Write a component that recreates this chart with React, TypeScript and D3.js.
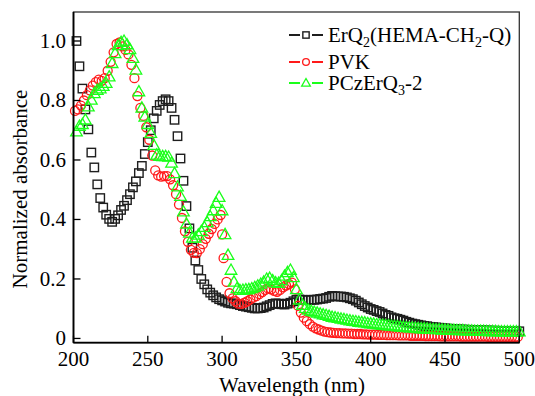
import * as d3 from "d3";

// ErQ2(HEMA-CH2-Q) — black squares
const erqWavelength = [
  202, 204, 206, 208, 210, 212, 214, 216, 218, 220, 222, 224, 226, 228, 230, 232, 234, 236, 238, 240,
  242, 244, 246, 248, 250, 252, 254, 256, 258, 260, 262, 264, 266, 268, 270, 272, 274, 276, 278, 280,
  282, 284, 286, 288, 290, 292, 294, 296, 298, 300, 302, 304, 306, 308, 310, 312, 314, 316, 318, 320,
  322, 324, 326, 328, 330, 332, 334, 336, 338, 340, 342, 344, 346, 348, 350, 352, 354, 356, 358, 360,
  362, 364, 366, 368, 370, 372, 374, 376, 378, 380, 382, 384, 386, 388, 390, 392, 394, 396, 398, 400,
  402, 404, 406, 408, 410, 412, 414, 416, 418, 420, 422, 424, 426, 428, 430, 432, 434, 436, 438, 440,
  442, 444, 446, 448, 450, 452, 454, 456, 458, 460, 462, 464, 466, 468, 470, 472, 474, 476, 478, 480,
  482, 484, 486, 488, 490, 492, 494, 496, 498, 500,
];
const erqAbs = [
  1.0, 0.915, 0.84, 0.77, 0.703, 0.625, 0.575, 0.518, 0.472, 0.44, 0.416, 0.402, 0.392, 0.402, 0.414, 0.432, 0.446, 0.465, 0.485, 0.508,
  0.528, 0.556, 0.58, 0.62, 0.66, 0.7, 0.74, 0.765, 0.785, 0.798, 0.804, 0.798, 0.775, 0.735, 0.68, 0.605, 0.53, 0.445, 0.37, 0.305,
  0.262, 0.23, 0.2, 0.182, 0.165, 0.154, 0.145, 0.138, 0.132, 0.128, 0.124, 0.12, 0.118, 0.117, 0.115, 0.112, 0.109, 0.107, 0.105, 0.103,
  0.101, 0.101, 0.102, 0.104, 0.108, 0.112, 0.116, 0.118, 0.117, 0.115, 0.114, 0.117, 0.12, 0.125, 0.13, 0.131, 0.13, 0.129, 0.129, 0.13,
  0.13, 0.131, 0.133, 0.134, 0.136, 0.14, 0.143, 0.142, 0.141, 0.141, 0.14, 0.138, 0.135, 0.132, 0.127, 0.121, 0.115, 0.109, 0.104, 0.099,
  0.096, 0.092, 0.089, 0.084, 0.079, 0.076, 0.071, 0.068, 0.066, 0.063, 0.06, 0.056, 0.053, 0.05, 0.048, 0.046, 0.044, 0.042, 0.041, 0.039,
  0.038, 0.037, 0.036, 0.035, 0.034, 0.033, 0.032, 0.031, 0.031, 0.03, 0.03, 0.029, 0.029, 0.028, 0.028, 0.028, 0.027, 0.027, 0.027, 0.026,
  0.026, 0.026, 0.025, 0.025, 0.025, 0.025, 0.024, 0.024, 0.024, 0.024,
];

// PVK — red circles
const pvkWavelength = [
  201, 203, 205, 207, 209, 211, 213, 215, 217, 219, 221, 223, 225, 227, 229, 231, 233, 235, 237, 239,
  241, 243, 245, 247, 249, 251, 253, 255, 257, 259, 261, 263, 265, 267, 269, 271, 273, 275, 277, 279,
  281, 283, 285, 287, 289, 291, 293, 295, 297, 299, 300, 301, 303, 305, 307, 309, 311, 313, 315, 317,
  319, 321, 323, 325, 327, 329, 331, 333, 335, 337, 339, 341, 343, 345, 347, 349, 351, 353, 355, 357,
  359, 361, 363, 365, 367, 369, 371, 373, 375, 377, 379, 381, 383, 385, 387, 389, 391, 393, 395, 397,
  399, 401, 403, 405, 407, 409, 411, 413, 415, 417, 419, 421, 423, 425, 427, 429, 431, 433, 435, 437,
  439, 441, 443, 445, 447, 449, 451, 453, 455, 457, 459, 461, 463, 465, 467, 469, 471, 473, 475, 477,
  479, 481, 483, 485, 487, 489, 491, 493, 495, 497, 499,
];
const pvkAbs = [
  0.765, 0.77, 0.783, 0.8, 0.818, 0.834, 0.85, 0.862, 0.87, 0.866, 0.875, 0.9, 0.93, 0.962, 0.99, 0.995, 0.982, 0.97, 0.955, 0.92,
  0.875, 0.815, 0.775, 0.748, 0.71, 0.668, 0.615, 0.565, 0.548, 0.544, 0.546, 0.546, 0.535, 0.515, 0.485, 0.45, 0.405, 0.36, 0.325, 0.298,
  0.288, 0.287, 0.3, 0.317, 0.335, 0.352, 0.368, 0.385, 0.4, 0.415, 0.35, 0.27, 0.19, 0.152, 0.135, 0.125, 0.117, 0.116, 0.12, 0.125,
  0.131, 0.137, 0.142, 0.149, 0.156, 0.163, 0.168, 0.165, 0.16, 0.157, 0.163, 0.172, 0.178, 0.183, 0.188, 0.165, 0.11, 0.087, 0.07, 0.058,
  0.048, 0.04, 0.034, 0.03, 0.026, 0.023, 0.021, 0.02, 0.019, 0.018, 0.018, 0.017, 0.017, 0.016, 0.016, 0.015, 0.015, 0.015, 0.014, 0.014,
  0.013, 0.013, 0.013, 0.012, 0.012, 0.012, 0.011, 0.011, 0.011, 0.011, 0.01, 0.01, 0.01, 0.01, 0.009, 0.009, 0.009, 0.009, 0.009, 0.008,
  0.008, 0.008, 0.008, 0.008, 0.007, 0.007, 0.007, 0.007, 0.007, 0.007, 0.007, 0.006, 0.006, 0.006, 0.006, 0.006, 0.006, 0.006, 0.006, 0.006,
  0.005, 0.005, 0.005, 0.005, 0.005, 0.005, 0.005, 0.005, 0.005, 0.005, 0.005,
];

// PCzErQ3-2 — green triangles
const pczWavelength = [
  202, 204, 206, 208, 210, 212, 214, 216, 218, 220, 222, 224, 226, 228, 230, 232, 234, 236, 238, 240,
  242, 244, 246, 248, 250, 252, 254, 256, 258, 260, 262, 264, 266, 268, 270, 272, 274, 276, 278, 280,
  282, 284, 286, 288, 290, 292, 294, 296, 298, 300, 302, 304, 306, 308, 310, 312, 314, 316, 318, 320,
  322, 324, 326, 328, 330, 332, 334, 336, 338, 340, 342, 344, 346, 348, 350, 352, 354, 356, 358, 360,
  362, 364, 366, 368, 370, 372, 374, 376, 378, 380, 382, 384, 386, 388, 390, 392, 394, 396, 398, 400,
  402, 404, 406, 408, 410, 412, 414, 416, 418, 420, 422, 424, 426, 428, 430, 432, 434, 436, 438, 440,
  442, 444, 446, 448, 450, 452, 454, 456, 458, 460, 462, 464, 466, 468, 470, 472, 474, 476, 478, 480,
  482, 484, 486, 488, 490, 492, 494, 496, 498, 500,
];
const pczAbs = [
  0.695, 0.714, 0.72, 0.735, 0.779, 0.802, 0.824, 0.835, 0.84, 0.848, 0.858, 0.88, 0.925, 0.958, 0.985, 0.996, 1.0, 0.988, 0.972, 0.942,
  0.903, 0.83, 0.775, 0.745, 0.72, 0.69, 0.65, 0.617, 0.613, 0.612, 0.612, 0.61, 0.59, 0.555, 0.51, 0.478, 0.426, 0.385, 0.355, 0.338,
  0.338, 0.348, 0.36, 0.374, 0.39, 0.41, 0.43, 0.455, 0.475, 0.43, 0.35, 0.28, 0.23, 0.19, 0.168, 0.162, 0.163, 0.164, 0.165, 0.168,
  0.172, 0.177, 0.183, 0.19, 0.2, 0.203, 0.195, 0.188, 0.186, 0.195, 0.21, 0.222, 0.23, 0.205, 0.165, 0.13, 0.112, 0.102, 0.096, 0.092,
  0.089, 0.086, 0.083, 0.08, 0.078, 0.075, 0.072, 0.07, 0.068, 0.066, 0.064, 0.062, 0.06, 0.058, 0.057, 0.055, 0.054, 0.053, 0.051, 0.05,
  0.049, 0.047, 0.046, 0.045, 0.044, 0.043, 0.042, 0.041, 0.04, 0.039, 0.038, 0.037, 0.036, 0.036, 0.035, 0.034, 0.033, 0.033, 0.032, 0.031,
  0.031, 0.03, 0.03, 0.029, 0.029, 0.028, 0.028, 0.028, 0.027, 0.027, 0.027, 0.026, 0.026, 0.026, 0.025, 0.025, 0.025, 0.025, 0.024, 0.024,
  0.024, 0.024, 0.023, 0.023, 0.023, 0.023, 0.023, 0.023, 0.023, 0.023,
];

const xTicks = [200, 250, 300, 350, 400, 450, 500];
const yTicks = [0, 0.2, 0.4, 0.6, 0.8, 1.0];
const yTickLabels = ["0", "0.2", "0.4", "0.6", "0.8", "1.0"];

const width = 535;
const height = 396;
const margin = { top: 12, right: 15.7, bottom: 53.3, left: 73.5 };
const serifStack =
  "Liberation Serif, Times New Roman, Times, Tinos, Nimbus Roman, Noto Serif, DejaVu Serif, FreeSerif, serif";

const BLACK = "#1e1e1e";
const RED = "#ff1a1a";
const GREEN = "#1aff1a";

type Shape = "square" | "circle" | "triangle";

function Marker({ shape, x, y, color, s = 1 }: { shape: Shape; x: number; y: number; color: string; s?: number }) {
  if (shape === "square") {
    const h = 4.2 * s;
    return <rect x={x - h} y={y - h} width={2 * h} height={2 * h} fill="none" stroke={color} strokeWidth={1.4} />;
  }
  if (shape === "circle") {
    return <circle cx={x} cy={y} r={4.5 * s} fill="none" stroke={color} strokeWidth={1.3} />;
  }
  const w = 5.8 * s;
  return (
    <path
      d={`M${x},${y - 6 * s}L${x + w},${y + 4.2 * s}L${x - w},${y + 4.2 * s}Z`}
      fill="none"
      stroke={color}
      strokeWidth={1.3}
    />
  );
}

export default function App() {
  const x = d3.scaleLinear().domain([200, 500]).range([margin.left, width - margin.right]);
  const y = d3.scaleLinear().domain([-0.0143, 1.0975]).range([height - margin.bottom, margin.top]);

  const series = [
    { name: "erq", wl: erqWavelength, abs: erqAbs, shape: "square" as Shape, color: BLACK },
    { name: "pvk", wl: pvkWavelength, abs: pvkAbs, shape: "circle" as Shape, color: RED },
    { name: "pcz", wl: pczWavelength, abs: pczAbs, shape: "triangle" as Shape, color: GREEN },
  ];

  const x0 = margin.left;
  const x1 = width - margin.right;
  const y0 = height - margin.bottom;
  const y1 = margin.top;

  const legendRows = [
    { y: 35, shape: "square" as Shape, color: BLACK },
    { y: 62, shape: "circle" as Shape, color: RED },
    { y: 83, shape: "triangle" as Shape, color: GREEN },
  ];

  return (
    <svg
      width={width}
      height={height}
      fontFamily={serifStack}
      style={{ position: "absolute", left: 0, top: 0, background: "#fff" }}
    >
      {series.map((s) => (
        <g key={s.name}>
          {s.wl.map((w, i) => (
            <Marker key={i} shape={s.shape} x={x(w)} y={y(s.abs[i])} color={s.color} />
          ))}
        </g>
      ))}

      {/* frame */}
      <rect x={x0} y={y1} width={x1 - x0} height={y0 - y1} fill="none" stroke="#333" strokeWidth={1.3} />
      <line x1={x0} x2={x0} y1={y1} y2={y0} stroke="#000" strokeWidth={1.8} />
      <line x1={x0} x2={x1} y1={y0} y2={y0} stroke="#000" strokeWidth={1.8} />

      {/* x axis */}
      {xTicks.map((t) => (
        <g key={t}>
          <line x1={x(t)} x2={x(t)} y1={y0} y2={y0 - 7} stroke="#000" strokeWidth={1.3} />
          <text x={x(t)} y={366} fontSize={21} textAnchor="middle" fill="#000" fontFamily={serifStack}>
            {t}
          </text>
        </g>
      ))}
      <text x={292} y={392} fontSize={21} textAnchor="middle" fill="#000" fontFamily={serifStack}>
        Wavelength (nm)
      </text>

      {/* y axis */}
      {yTicks.map((t, i) => (
        <g key={t}>
          <line x1={x0} x2={x0 + 7} y1={y(t)} y2={y(t)} stroke="#000" strokeWidth={1.3} />
          <text x={66} y={y(t) + 7} fontSize={21} textAnchor="end" fill="#000" fontFamily={serifStack}>
            {yTickLabels[i]}
          </text>
        </g>
      ))}
      <text
        transform="translate(27,189) rotate(-90)"
        fontSize={21}
        textAnchor="middle"
        fill="#000"
        fontFamily={serifStack}
      >
        Normalized absorbance
      </text>

      {/* legend */}
      {legendRows.map((r) => (
        <g key={r.color}>
          <line x1={289} x2={323} y1={r.y} y2={r.y} stroke={r.color} strokeWidth={1.8} />
          <rect x={300} y={r.y - 5} width={12} height={10} fill="#fff" />
          <Marker shape={r.shape} x={306} y={r.y} color={r.color} s={0.75} />
        </g>
      ))}
      <text x={328} y={42} fontSize={21} fill="#000" fontFamily={serifStack}>
        ErQ<tspan fontSize={14} dy={5}>2</tspan>
        <tspan dy={-5}>(HEMA-CH</tspan>
        <tspan fontSize={14} dy={5}>2</tspan>
        <tspan dy={-5}>-Q)</tspan>
      </text>
      <text x={328} y={69} fontSize={21} fill="#000" fontFamily={serifStack}>
        PVK
      </text>
      <text x={328} y={90} fontSize={21} fill="#000" fontFamily={serifStack}>
        PCzErQ<tspan fontSize={14} dy={5}>3</tspan>
        <tspan dy={-5}>-2</tspan>
      </text>
    </svg>
  );
}
